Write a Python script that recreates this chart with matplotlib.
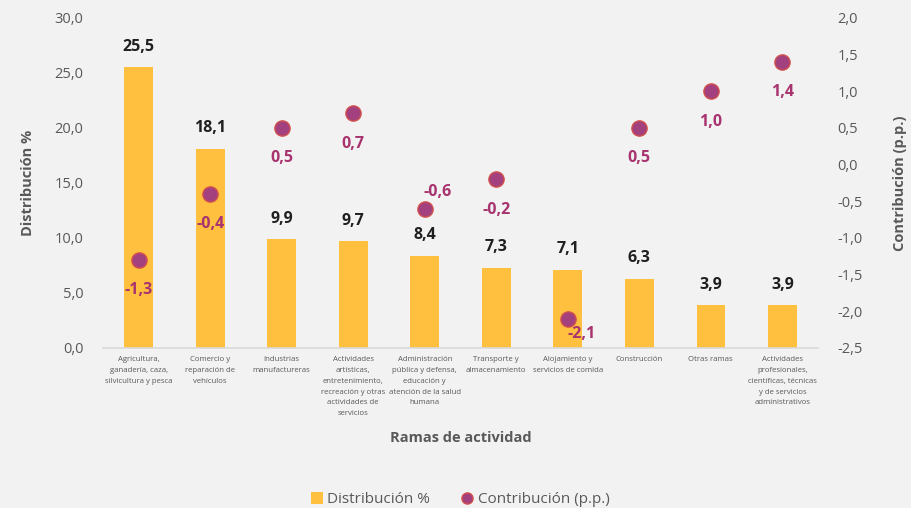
import matplotlib
matplotlib.use('Agg')
import matplotlib.pyplot as plt
from matplotlib.lines import Line2D
from matplotlib.patches import Patch
from matplotlib.ticker import FuncFormatter

plt.rcParams['font.family'] = ['Open Sans', 'DejaVu Sans']

categories = [
    "Agricultura,\nganadería, caza,\nsilvicultura y pesca",
    "Comercio y\nreparación de\nvehículos",
    "Industrias\nmanufactureras",
    "Actividades\nartísticas,\nentretenimiento,\nrecreación y otras\nactividades de\nservicios",
    "Administración\npública y defensa,\neducación y\natención de la salud\nhumana",
    "Transporte y\nalmacenamiento",
    "Alojamiento y\nservicios de comida",
    "Construcción",
    "Otras ramas",
    "Actividades\nprofesionales,\ncientíficas, técnicas\ny de servicios\nadministrativos",
]
distribucion = [25.5, 18.1, 9.9, 9.7, 8.4, 7.3, 7.1, 6.3, 3.9, 3.9]
contribucion = [-1.3, -0.4, 0.5, 0.7, -0.6, -0.2, -2.1, 0.5, 1.0, 1.4]

# label offsets for the contribution points (points)
contrib_offsets = [(0, -22), (0, -22), (0, -22), (0, -22), (9, 12),
                   (0, -22), (10, -11), (0, -22), (0, -22), (0, -22)]

BG = '#F2F2F2'
BAR = '#FFBF3F'
DOT = '#A3407E'
DOT_EDGE = '#D2504C'
LBL = '#A8336F'
GRAY = '#595959'

def coma(v, _=None):
    return f"{v:.1f}".replace('.', ',')

fig = plt.figure(figsize=(9.11, 5.08), dpi=100, facecolor=BG)
ax = fig.add_axes([0.113, 0.315, 0.785, 0.65], facecolor=BG)
x = range(len(categories))

ax.bar(x, distribucion, width=0.4, color=BAR, zorder=2)
for xi, v in zip(x, distribucion):
    ax.annotate(coma(v), (xi, v), xytext=(0, 9), textcoords='offset points',
                ha='center', va='bottom', fontsize=11.5, fontweight='bold', color='#1F1F1F')

ax.set_xlim(-0.5, len(categories) - 0.5)
ax.set_ylim(0, 30)
ax.set_yticks([0, 5, 10, 15, 20, 25, 30])
ax.yaxis.set_major_formatter(FuncFormatter(coma))
ax.set_xticks(list(x))
ax.set_xticklabels(categories, fontsize=5.6, color=GRAY, va='top', linespacing=1.75)
ax.tick_params(axis='x', length=0, pad=6)
ax.tick_params(axis='y', length=0, labelsize=10.5, labelcolor=GRAY, pad=14)
for s in ['top', 'left', 'right']:
    ax.spines[s].set_visible(False)
ax.spines['bottom'].set_color('#D9D9D9')
ax.spines['bottom'].set_linewidth(1.2)
ax.set_ylabel('Distribución %', fontsize=10.5, fontweight='bold', color=GRAY, labelpad=14)
ax.set_xlabel('Ramas de actividad', fontsize=10.5, fontweight='bold', color=GRAY, labelpad=10)

ax2 = ax.twinx()
ax2.scatter(list(x), contribucion, s=120, color=DOT, edgecolor=DOT_EDGE, linewidth=1.0, zorder=3)
for xi, v, off in zip(x, contribucion, contrib_offsets):
    ax2.annotate(coma(v), (xi, v), xytext=off, textcoords='offset points',
                 ha='center', va='center', fontsize=11.5, fontweight='bold', color=LBL)
ax2.set_ylim(-2.5, 2.0)
ax2.set_yticks([-2.5, -2, -1.5, -1, -0.5, 0, 0.5, 1, 1.5, 2])
ax2.yaxis.set_major_formatter(FuncFormatter(coma))
ax2.tick_params(axis='y', length=0, labelsize=10.5, labelcolor=GRAY, pad=14)
for s in ['top', 'left', 'right', 'bottom']:
    ax2.spines[s].set_visible(False)
ax2.set_ylabel('Contribución (p.p.)', fontsize=10.5, fontweight='bold', color=GRAY, labelpad=22)

handles = [
    Patch(facecolor=BAR, edgecolor='none', label='Distribución %'),
    Line2D([], [], marker='o', linestyle='none', markersize=8, markerfacecolor=DOT,
           markeredgecolor=DOT_EDGE, label='Contribución (p.p.)'),
]
fig.legend(handles=handles, loc='lower center', bbox_to_anchor=(0.505, -0.026), ncol=2,
           frameon=False, fontsize=11, labelcolor=GRAY, handlelength=0.8, handleheight=0.8,
           handletextpad=0.3, columnspacing=2.0)

fig.savefig('out.png', dpi=100, facecolor=BG)
